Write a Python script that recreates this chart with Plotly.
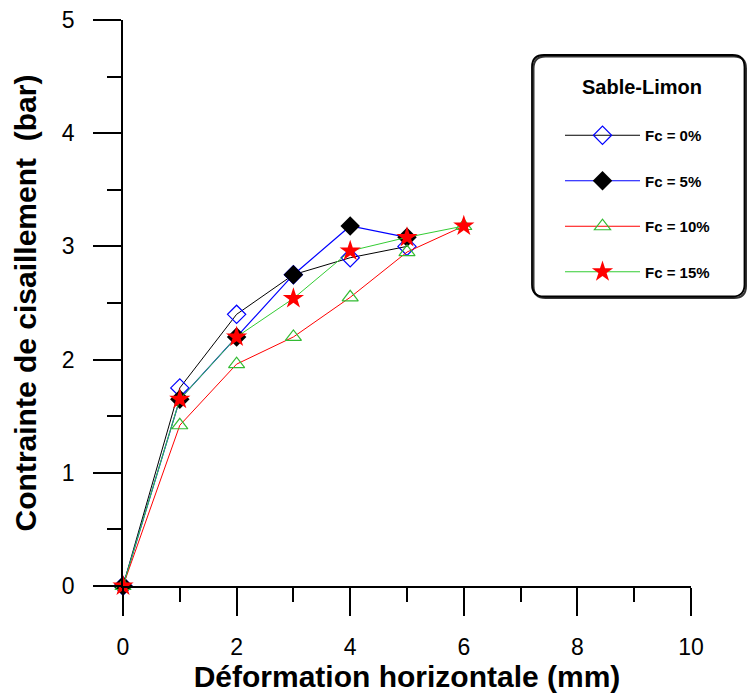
import plotly.graph_objects as go

x_vals = [0, 1, 2, 3, 4, 5, 6]
fc0 = [0, 1.75, 2.40, 2.75, 2.90, 3.00]
fc5 = [0, 1.65, 2.20, 2.75, 3.18, 3.08]
fc10 = [0, 1.42, 1.96, 2.20, 2.55, 2.95, 3.18]
fc15 = [0, 1.65, 2.20, 2.54, 2.96, 3.08, 3.18]
labels = ["Fc = 0%", "Fc = 5%", "Fc = 10%", "Fc = 15%"]
legend_title = "Sable-Limon"
x_ticks = [0, 2, 4, 6, 8, 10]
y_ticks = [0, 1, 2, 3, 4, 5]

W, H = 749, 696
L, R, T, B = 123, 58, 20, 110
FONT = "Liberation Sans, Arial, sans-serif"

fig = go.Figure()
fig.add_trace(go.Scatter(x=x_vals[:len(fc0)], y=fc0, name=labels[0], mode="lines+markers",
                         line=dict(color="black", width=1),
                         marker=dict(symbol="diamond-open", size=14, color="blue", line=dict(width=1.2, color="blue")),
                         legendgroup="a"))
fig.add_trace(go.Scatter(x=x_vals[:len(fc5)], y=fc5, name=labels[1], mode="lines+markers",
                         line=dict(color="blue", width=1.2),
                         marker=dict(symbol="diamond", size=15, color="black"),
                         legendgroup="b"))
fig.add_trace(go.Scatter(x=x_vals[:len(fc10)], y=fc10, name=labels[2], mode="lines+markers",
                         line=dict(color="red", width=1),
                         marker=dict(symbol="triangle-up-open", size=14, color="#33bb33", line=dict(width=1.2, color="#33bb33")),
                         legendgroup="c"))
fig.add_trace(go.Scatter(x=x_vals[:len(fc15)], y=fc15, name=labels[3], mode="lines+markers",
                         line=dict(color="#33cc33", width=1),
                         marker=dict(symbol="star", size=16, color="red", line=dict(width=0)),
                         legendgroup="d"))
fig.update_traces(cliponaxis=False)

pw, ph = W - L - R, H - T - B
def px(xp):
    return (xp - L) / pw
def py(yp):
    return (H - B - yp) / ph

def rounded(xa, ya, xb, yb, r=12):
    x0, x1, y0, y1 = px(xa), px(xb), py(yb), py(ya)
    rx, ry = r / pw, r / ph
    return (f"M {x0+rx},{y1} L {x1-rx},{y1} Q {x1},{y1} {x1},{y1-ry} L {x1},{y0+ry} "
            f"Q {x1},{y0} {x1-rx},{y0} L {x0+rx},{y0} Q {x0},{y0} {x0},{y0+ry} "
            f"L {x0},{y1-ry} Q {x0},{y1} {x0+rx},{y1} Z")

fig.update_layout(
    width=W, height=H,
    margin=dict(l=L, r=R, t=T, b=B, autoexpand=False),
    plot_bgcolor="white", paper_bgcolor="white",
    font=dict(family=FONT, color="black"),
    shapes=[
        dict(type="path", path=rounded(533.5, 56.5, 746, 298), xref="paper", yref="paper",
             line=dict(color="#333333", width=2), fillcolor="rgba(0,0,0,0)", layer="above"),
        dict(type="path", path=rounded(532, 55, 744.5, 296.5), xref="paper", yref="paper",
             line=dict(color="black", width=1.8), fillcolor="rgba(0,0,0,0)", layer="above"),
    ],
    annotations=[dict(text=f"<b>{legend_title}</b>", xref="paper", yref="paper",
                      x=px(642), y=py(87), showarrow=False, xanchor="center", yanchor="middle",
                      font=dict(family=FONT, size=20, color="black"))],
    legend=dict(
        xref="container", yref="container",
        x=560 / W, y=1 - 119 / H, xanchor="left", yanchor="top",
        bgcolor="rgba(0,0,0,0)", borderwidth=0,
        font=dict(family=FONT, size=15, color="black", weight="bold"),
        tracegroupgap=23,
        itemwidth=75,
    ),
    xaxis=dict(range=[0, 10], tickvals=x_ticks, showgrid=False, zeroline=False,
               showline=True, linecolor="black", linewidth=1.5,
               ticks="outside", ticklen=28, tickwidth=1.5, tickcolor="black",
               ticklabelstandoff=12,
               minor=dict(ticks="outside", ticklen=14, dtick=1, tickwidth=1.5, tickcolor="black", showgrid=False),
               tickfont=dict(size=23, family=FONT),
               title=dict(text="<b>Déformation horizontale (mm)</b>", font=dict(size=30, family=FONT), standoff=0)),
    yaxis=dict(range=[0, 5], tickvals=y_ticks, showgrid=False, zeroline=False,
               showline=True, linecolor="black", linewidth=1.5,
               ticks="outside", ticklen=28, tickwidth=1.5, tickcolor="black",
               ticklabelstandoff=14,
               minor=dict(ticks="outside", ticklen=14, dtick=0.5, tickwidth=1.5, tickcolor="black", showgrid=False),
               tickfont=dict(size=23, family=FONT),
               title=dict(text="<b>Contrainte de cisaillement  (bar)</b>", font=dict(size=30, family=FONT), standoff=16)),
)

fig.write_html("out.html")
